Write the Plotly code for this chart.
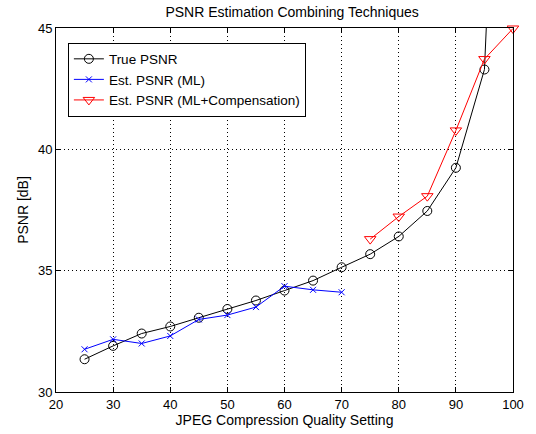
import plotly.graph_objects as go

quality = [25, 30, 35, 40, 45, 50, 55, 60, 65, 70, 75, 80, 85, 90, 95, 100]
true_psnr = [31.35, 31.9, 32.41, 32.7, 33.06, 33.42, 33.77, 34.18, 34.59, 35.14,
             35.68, 36.41, 37.46, 39.24, 43.29, 70.0]

ml_quality = [25, 30, 35, 40, 45, 50, 55, 60, 65, 70]
ml_psnr = [31.76, 32.17, 32.0, 32.31, 32.99, 33.17, 33.5, 34.36, 34.21, 34.11]

comp_quality = [75, 80, 85, 90, 95, 100]
comp_psnr = [36.3, 37.23, 38.07, 40.78, 43.72, 44.98]

x_ticks = [20, 30, 40, 50, 60, 70, 80, 90, 100]
y_ticks = [30, 35, 40, 45]

FONT = "Liberation Sans, Arial, Helvetica, sans-serif"

fig = go.Figure()
fig.add_trace(go.Scatter(
    x=quality, y=true_psnr, mode="lines+markers", name="True PSNR",
    line=dict(color="black", width=1),
    marker=dict(symbol="circle-open", size=9, color="black", line=dict(width=1)),
    cliponaxis=True,
))
fig.add_trace(go.Scatter(
    x=ml_quality, y=ml_psnr, mode="lines+markers", name="Est. PSNR (ML)",
    line=dict(color="#0000ff", width=1),
    marker=dict(symbol="x-thin-open", size=6, color="#0000ff", line=dict(width=1, color="#0000ff")),
))
fig.add_trace(go.Scatter(
    x=comp_quality, y=comp_psnr, mode="lines+markers", name="Est. PSNR (ML+Compensation)",
    line=dict(color="#ff0000", width=1),
    marker=dict(symbol="triangle-down-open", size=10, color="#ff0000", line=dict(width=1)),
    cliponaxis=False,
))

axis_common = dict(
    showline=True, linecolor="black", linewidth=1, mirror="ticks",
    ticks="inside", ticklen=5, tickcolor="black",
    showgrid=True, gridcolor="black", griddash="1px,3px", gridwidth=1,
    zeroline=False, tickfont=dict(family=FONT, size=13, color="black"),
)

fig.update_layout(
    width=536, height=434,
    margin=dict(l=56, r=13, t=28, b=42),
    paper_bgcolor="white", plot_bgcolor="white",
    title=dict(text="PSNR Estimation Combining Techniques", x=0.545, xanchor="center",
               y=0.972, yanchor="middle", font=dict(family=FONT, size=14, color="black")),
    xaxis=dict(range=[20, 100], tickvals=x_ticks,
               title=dict(text="JPEG Compression Quality Setting", standoff=1,
                          font=dict(family=FONT, size=14, color="black")),
               **axis_common),
    yaxis=dict(range=[30, 45], tickvals=y_ticks,
               title=dict(text="PSNR [dB]", standoff=6,
                          font=dict(family=FONT, size=14, color="black")),
               **axis_common),
    legend=dict(x=0.026, y=0.96, xanchor="left", yanchor="top",
                bgcolor="white", bordercolor="black", borderwidth=1,
                font=dict(family=FONT, size=13.5, color="black"),
                tracegroupgap=0, itemwidth=30),
    showlegend=True,
)

fig.write_html("out.html")
